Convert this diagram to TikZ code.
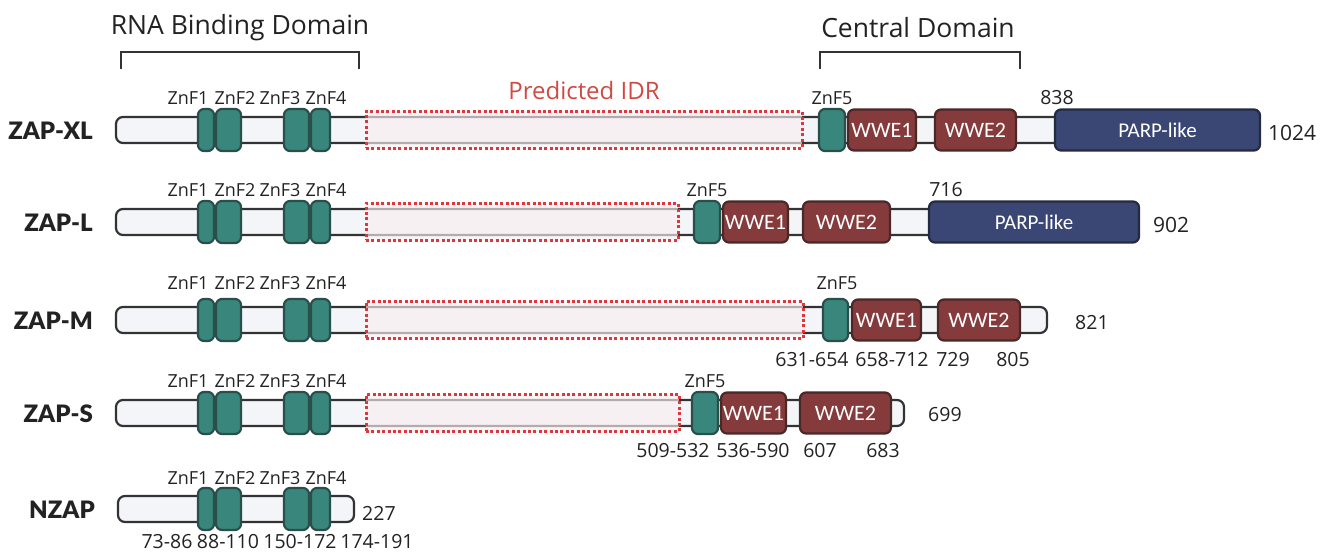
\documentclass[tikz,border=0pt]{standalone}
\usepackage{fontspec}
\setmainfont{Open Sans}
\newfontfamily\calfont{Carlito}
\newfontfamily\latofont{Lato}[BoldFont={Lato Black}]
\definecolor{txt}{HTML}{222222}
\definecolor{barline}{HTML}{333333}
\definecolor{barfill}{HTML}{F3F5F9}
\definecolor{znffill}{HTML}{38867C}
\definecolor{znfline}{HTML}{2A4F4A}
\definecolor{wwefill}{HTML}{853B3B}
\definecolor{wweline}{HTML}{4A2828}
\definecolor{parpfill}{HTML}{3A4673}
\definecolor{parpline}{HTML}{242A40}
\definecolor{idrred}{HTML}{E0353A}
\definecolor{idrtxt}{HTML}{D04A45}
\definecolor{idrfill}{HTML}{F9EEF0}
\newcommand\pdom[6]{%
  \pgfmathsetmacro\pdw{#4-#3}\pgfmathsetmacro\pdx{(#3+#4)/2}%
  \node[#2, minimum width=\pdw pt] (#1) at (\pdx,#5) {#6};}
\begin{document}
\begin{tikzpicture}[x=1pt,y=-1pt,
  bar/.style={draw=barline, line width=2.2pt, fill=barfill, rounded corners=7pt, inner sep=0, outer sep=0, minimum height=26pt},
  idr/.style={draw=idrred, line width=3pt, dash pattern=on 3pt off 2.4pt, fill=idrfill, fill opacity=0.65, inner sep=0, outer sep=0, minimum height=37pt},
  znf/.style={draw=znfline, fill=znffill, line width=2.2pt, rounded corners=6pt, inner sep=0, outer sep=0, minimum height=42pt},
  wwe/.style={draw=wweline, fill=wwefill, line width=2.2pt, rounded corners=6pt, inner sep=0, outer sep=0, minimum height=41pt, text=white, font=\calfont\fontsize{22}{24}\selectfont},
  parp/.style={draw=parpline, fill=parpfill, line width=2.2pt, rounded corners=6pt, inner sep=0, outer sep=0, minimum height=41pt, text=white, font=\calfont\fontsize{21}{23}\selectfont},
  lbl/.style={font=\fontsize{18}{20}\selectfont, text=txt, inner sep=0},
  num/.style={font=\fontsize{19.5}{22}\selectfont, text=txt, inner sep=0},
  rng/.style={font=\fontsize{19.5}{22}\selectfont, text=txt, inner sep=0},
  rowlbl/.style={font=\latofont\bfseries\fontsize{24}{26}\selectfont, text=txt, anchor=east, inner sep=0},
  head/.style={font=\fontsize{26.5}{29}\selectfont, text=txt, inner sep=0},
  brk/.style={draw=barline, line width=2.5pt}]
\useasboundingbox (0,0) rectangle (1323,553);

% headers
\node[head] (rbd) at (240,28) {RNA Binding Domain};
\node[head] (cd) at (918,28) {Central Domain};
\draw[brk] (121,69) -- (121,52) -- (359,52) -- (359,69);
\draw[brk] (820,69) -- (820,52) -- (1020,52) -- (1020,69);
\node[font=\fontsize{24}{26}\selectfont, text=idrtxt, inner sep=0] (idrlbl) at (584,91) {Predicted IDR};

% row labels
\node[rowlbl] (nxl) at (93,131) {ZAP-XL};
\node[rowlbl] (nl) at (93,223) {ZAP-L};
\node[rowlbl] (nm) at (93,321) {ZAP-M};
\node[rowlbl] (ns) at (93,414) {ZAP-S};
\node[rowlbl] (nnz) at (95,510) {NZAP};

% bars
\pdom{xl-bar}{bar}{116}{1250}{130}{}
\pdom{l-bar}{bar}{116}{1130}{222}{}
\pdom{m-bar}{bar}{116}{1047}{320}{}
\pdom{s-bar}{bar}{116}{904}{413}{}
\pdom{nz-bar}{bar}{118}{354}{509}{}

% IDRs
\pdom{xl-idr}{idr}{366}{802}{130}{}
\pdom{l-idr}{idr}{366}{678}{222}{}
\pdom{m-idr}{idr}{366}{803}{320}{}
\pdom{s-idr}{idr}{366}{679}{413}{}

% zinc fingers 1-4
\foreach \r/\y/\ly in {xl/130/98, l/222/190, m/320/283, s/413/381, nz/509/478}{
  \pdom{\r-z1}{znf}{198}{214}{\y}{}
  \pdom{\r-z2}{znf}{216}{241}{\y}{}
  \pdom{\r-z3}{znf}{284}{309}{\y}{}
  \pdom{\r-z4}{znf}{311}{330}{\y}{}
  \node[lbl] (\r-t1) at (188,\ly) {ZnF1};
  \node[lbl] (\r-t2) at (235,\ly) {ZnF2};
  \node[lbl] (\r-t3) at (280,\ly) {ZnF3};
  \node[lbl] (\r-t4) at (326,\ly) {ZnF4};
}

% ZAP-XL
\pdom{xl-z5}{znf}{819}{845}{130}{}
\pdom{xl-w1}{wwe}{848}{916}{130}{WWE1}
\pdom{xl-w2}{wwe}{935}{1016}{130}{WWE2}
\pdom{xl-p}{parp}{1055}{1260}{130}{PARP-like}
\node[lbl] (xl-t5) at (832,98) {ZnF5};
\node[num] (xl-838) at (1057,98) {838};
\node[num, font=\fontsize{21}{23}\selectfont, anchor=west] (xl-end) at (1268,133) {1024};

% ZAP-L
\pdom{l-z5}{znf}{694}{720}{222}{}
\pdom{l-w1}{wwe}{723}{788}{222}{WWE1}
\pdom{l-w2}{wwe}{803}{890}{222}{WWE2}
\pdom{l-p}{parp}{929}{1139}{222}{PARP-like}
\node[lbl] (l-t5) at (707,190) {ZnF5};
\node[num] (l-716) at (946,190) {716};
\node[num, font=\fontsize{21}{23}\selectfont, anchor=west] (l-end) at (1153,225) {902};

% ZAP-M
\pdom{m-z5}{znf}{823}{848}{320}{}
\pdom{m-w1}{wwe}{852}{921}{320}{WWE1}
\pdom{m-w2}{wwe}{938}{1020}{320}{WWE2}
\node[lbl] (m-t5) at (837,283) {ZnF5};
\node[rng, anchor=west] (m-end) at (1075,323) {821};
\node[rng] (m-r1) at (812,360) {631-654};
\node[rng] (m-r2) at (892,360) {658-712};
\node[rng] (m-r3) at (953,360) {729};
\node[rng] (m-r4) at (1013,360) {805};

% ZAP-S
\pdom{s-z5}{znf}{692}{718}{413}{}
\pdom{s-w1}{wwe}{721}{786}{413}{WWE1}
\pdom{s-w2}{wwe}{800}{891}{413}{WWE2}
\node[lbl] (s-t5) at (705,381) {ZnF5};
\node[rng, anchor=west] (s-end) at (928,415) {699};
\node[rng] (s-r1) at (673,451) {509-532};
\node[rng] (s-r2) at (753,451) {536-590};
\node[rng] (s-r3) at (820,451) {607};
\node[rng] (s-r4) at (883,451) {683};

% NZAP
\node[rng, anchor=west] (nz-end) at (362,513) {227};
\node[rng] (nz-r1) at (167,542) {73-86};
\node[rng] (nz-r2) at (228,542) {88-110};
\node[rng] (nz-r3) at (300,542) {150-172};
\node[rng] (nz-r4) at (377,542) {174-191};
\end{tikzpicture}
\end{document}
